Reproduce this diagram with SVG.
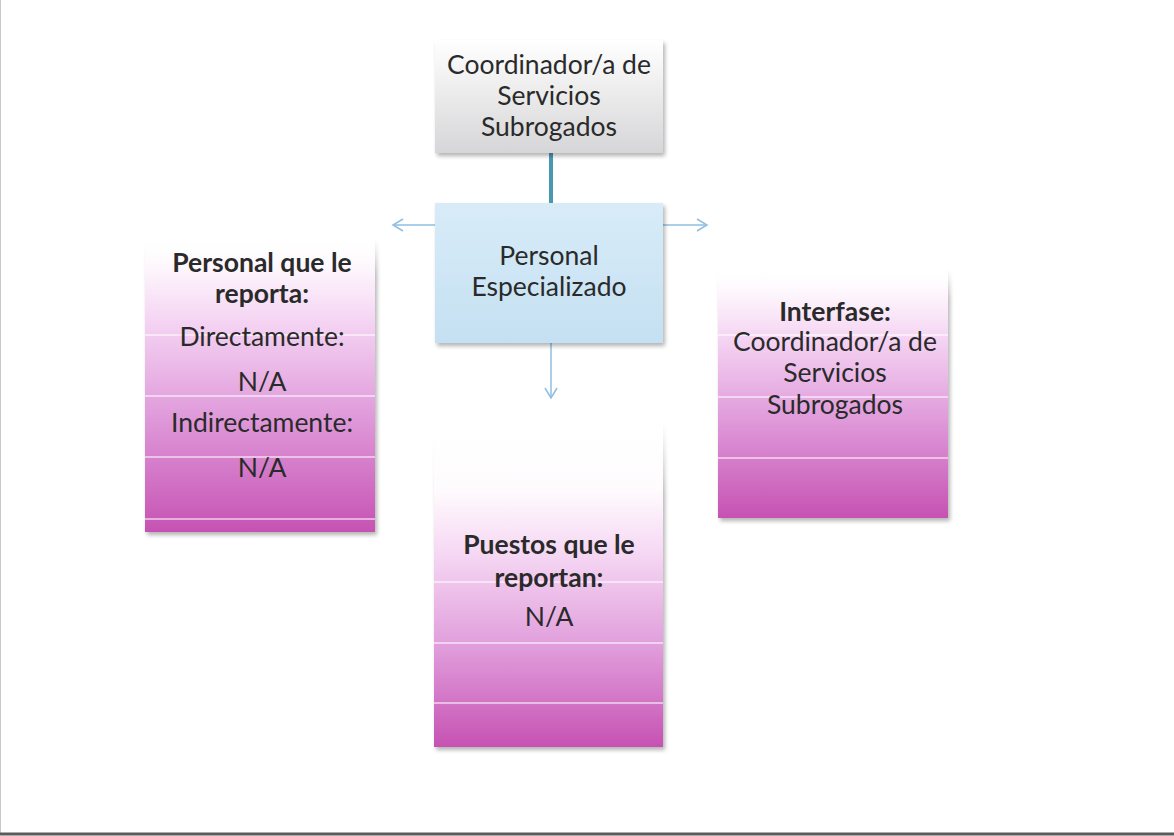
<svg xmlns="http://www.w3.org/2000/svg" width="1174" height="836" viewBox="0 0 1174 836">
<style>
.t{font-family:Lato,"Open Sans","Liberation Sans",sans-serif;font-size:26.5px;fill:#2a2a2a;text-anchor:middle}
.b{font-weight:bold}
.sep{stroke:#ffffff;stroke-width:1.5;opacity:0.7}
.arr{stroke:#8fbfe0;stroke-width:1.5;fill:none}
.bg{fill:#ffffff}
</style>
<defs>
<linearGradient id="gGray" x1="0" y1="0" x2="0" y2="1">
<stop offset="0" stop-color="#ffffff"/><stop offset="1" stop-color="#d6d6d8"/>
</linearGradient>
<linearGradient id="gBlue" x1="0" y1="0" x2="0" y2="1">
<stop offset="0" stop-color="#d8ecf8"/><stop offset="1" stop-color="#c4e0f2"/>
</linearGradient>
<linearGradient id="gPink" x1="0" y1="0" x2="0" y2="1">
<stop offset="0" stop-color="#ffffff" stop-opacity="0"/><stop offset="0.12" stop-color="#fdf4fc"/><stop offset="0.3" stop-color="#f4d2f2"/><stop offset="0.6" stop-color="#e09cdb"/><stop offset="1" stop-color="#c652b3"/>
</linearGradient>
<linearGradient id="gPink2" x1="0" y1="0" x2="0" y2="1">
<stop offset="0" stop-color="#ffffff" stop-opacity="0"/><stop offset="0.22" stop-color="#fefafd"/><stop offset="0.4" stop-color="#f6d9f4"/><stop offset="0.7" stop-color="#e09cdb"/><stop offset="1" stop-color="#c652b3"/>
</linearGradient>
<filter id="sh" x="-10%" y="-10%" width="125%" height="125%">
<feGaussianBlur in="SourceAlpha" stdDeviation="2"/><feOffset dx="2" dy="3"/>
<feComponentTransfer><feFuncA type="linear" slope="0.3"/></feComponentTransfer>
<feMerge><feMergeNode/><feMergeNode in="SourceGraphic"/></feMerge>
</filter>
<filter id="shOnly" x="-10%" y="-10%" width="125%" height="125%">
<feGaussianBlur in="SourceAlpha" stdDeviation="2"/><feOffset dx="2" dy="3"/>
<feComponentTransfer><feFuncA type="linear" slope="0.3"/></feComponentTransfer>
</filter>
<marker id="ah" markerWidth="14" markerHeight="14" refX="11" refY="7" orient="auto" markerUnits="userSpaceOnUse">
<path d="M1,1 L11,7 L1,13" fill="none" stroke="#8fbfe0" stroke-width="1.5"/>
</marker>
</defs>
<rect width="1174" height="836" fill="#ffffff"/>
<line x1="0.5" y1="0" x2="0.5" y2="834" stroke="#c8c8c8" stroke-width="1"/>
<line x1="0" y1="834" x2="1174" y2="834" stroke="#5a5a5a" stroke-width="3"/>

<g id="connectors">
<line x1="551" y1="153" x2="551" y2="203" stroke="#4a98b0" stroke-width="4"/>
<line class="arr" x1="435" y1="225" x2="393" y2="225" marker-end="url(#ah)"/>
<line class="arr" x1="663" y1="225" x2="707" y2="225" marker-end="url(#ah)"/>
<line class="arr" x1="551" y1="343" x2="551" y2="398" marker-end="url(#ah)"/>
</g>

<g id="coordinador">
<rect x="435" y="40" width="228" height="113" fill="url(#gGray)" filter="url(#sh)"/>
<text class="t" x="549" y="74">Coordinador/a de</text>
<text class="t" x="549" y="105">Servicios</text>
<text class="t" x="549" y="136">Subrogados</text>
</g>

<g id="personal-especializado">
<rect x="435" y="203" width="228" height="140" fill="url(#gBlue)" filter="url(#sh)"/>
<text class="t" x="549" y="265">Personal</text>
<text class="t" x="549" y="296">Especializado</text>
</g>

<g id="personal-reporta">
<rect x="145" y="236" width="230" height="296" fill="url(#gPink)" filter="url(#shOnly)"/>
<rect class="bg" x="145" y="236" width="230" height="296"/>
<rect x="145" y="236" width="230" height="296" fill="url(#gPink)"/>
<line class="sep" x1="145" y1="335" x2="375" y2="335"/>
<line class="sep" x1="145" y1="396" x2="375" y2="396"/>
<line class="sep" x1="145" y1="457" x2="375" y2="457"/>
<line class="sep" x1="145" y1="519" x2="375" y2="519"/>
<text class="t b" x="262" y="272">Personal que le</text>
<text class="t b" x="262" y="303">reporta:</text>
<text class="t" x="262" y="346">Directamente:</text>
<text class="t" x="262" y="391">N/A</text>
<text class="t" x="262" y="432">Indirectamente:</text>
<text class="t" x="262" y="477">N/A</text>
</g>

<g id="interfase">
<rect x="718" y="266" width="230" height="252" fill="url(#gPink)" filter="url(#shOnly)"/>
<rect class="bg" x="718" y="266" width="230" height="252"/>
<rect x="718" y="266" width="230" height="252" fill="url(#gPink)"/>
<line class="sep" x1="718" y1="335" x2="948" y2="335"/>
<line class="sep" x1="718" y1="397" x2="948" y2="397"/>
<line class="sep" x1="718" y1="458" x2="948" y2="458"/>
<text class="t b" x="835" y="321">Interfase:</text>
<text class="t" x="835" y="351">Coordinador/a de</text>
<text class="t" x="835" y="382">Servicios</text>
<text class="t" x="835" y="414">Subrogados</text>
</g>

<g id="puestos">
<rect x="434" y="420" width="229" height="327" fill="url(#gPink2)" filter="url(#shOnly)"/>
<rect class="bg" x="434" y="420" width="229" height="327"/>
<rect x="434" y="420" width="229" height="327" fill="url(#gPink2)"/>
<line class="sep" x1="434" y1="582" x2="663" y2="582"/>
<line class="sep" x1="434" y1="643" x2="663" y2="643"/>
<line class="sep" x1="434" y1="703" x2="663" y2="703"/>
<text class="t b" x="549" y="554">Puestos que le</text>
<text class="t b" x="549" y="587">reportan:</text>
<text class="t" x="549" y="626">N/A</text>
</g>
</svg>
